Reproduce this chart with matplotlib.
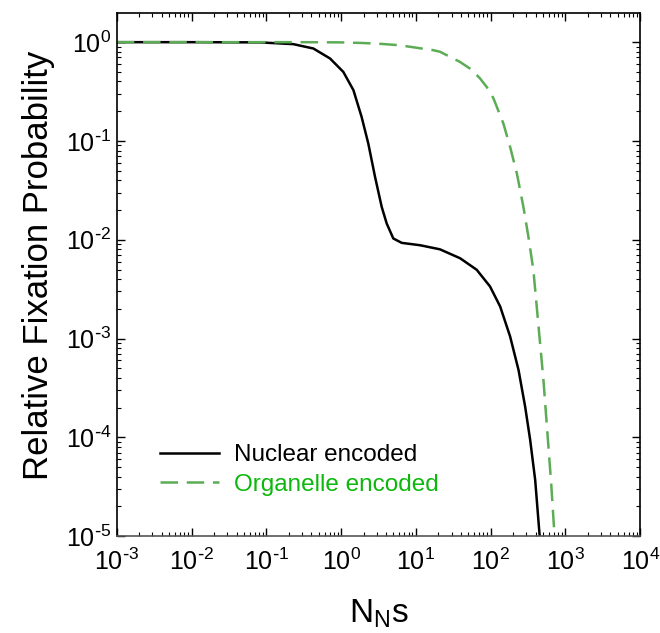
import math
import matplotlib
matplotlib.use('Agg')
import matplotlib.pyplot as plt
from matplotlib.ticker import LogLocator, FuncFormatter, NullFormatter

plt.rcParams['font.family'] = ['Liberation Sans', 'DejaVu Sans']
plt.rcParams['mathtext.default'] = 'regular'

# values
nuc_x = [1e-3, 1e-2, 0.082, 0.229, 0.425, 0.71, 1.07, 1.46, 1.88, 2.31, 2.84,
         3.49, 4.07, 4.99, 6.47, 11.4, 21, 39, 65, 98, 134, 182, 236, 289,
         337, 394, 450, 455]
nuc_y = [1.0, 1.0, 0.995, 0.955, 0.863, 0.684, 0.50, 0.327, 0.175, 0.094,
         0.0434, 0.0215, 0.0146, 0.0103, 0.0093, 0.0088, 0.0080, 0.0065,
         0.00497, 0.00337, 0.00211, 0.00105, 4.8e-4, 2.05e-4, 9.5e-5,
         3.7e-5, 1.05e-5, 1e-5]

org_x = [1e-3, 0.1, 0.3, 1, 2, 3.5, 6.1, 10, 17, 21, 39, 55, 72, 89, 109, 148,
         182, 224, 274, 320, 373, 446, 508, 575, 645, 707, 720]
org_y = [1.0, 1.0, 1.0, 0.995, 0.98, 0.96, 0.93, 0.88, 0.83, 0.80, 0.63, 0.53,
         0.43, 0.35, 0.27, 0.15, 0.087, 0.047, 0.0215, 0.0107, 0.0049,
         0.00112, 3.8e-4, 1.09e-4, 3.4e-5, 1.15e-5, 1e-5]

x_ticks = [1e-3, 1e-2, 1e-1, 1e0, 1e1, 1e2, 1e3, 1e4]
y_ticks = [1e-5, 1e-4, 1e-3, 1e-2, 1e-1, 1e0]

fig = plt.figure(figsize=(6.6, 6.33), dpi=100)
ax = fig.add_axes([0.177, 0.153, 0.793, 0.826])

ax.plot(nuc_x, nuc_y, color='black', lw=1.8, label='Nuclear encoded')
ax.plot(org_x, org_y, color='#5cac55', lw=1.8, dashes=(7, 3.5),
        label='Organelle encoded')

ax.set_xscale('log')
ax.set_yscale('log')
ax.set_xlim(1e-3, 1e4)
ax.set_ylim(1e-5, 1.96)

def pow_fmt(v, pos):
    e = round(math.log10(v))
    if e < 0:
        return '10$^{\\text{-}%d}$' % (-e)
    return '10$^{%d}$' % e

ax.set_xticks(x_ticks)
ax.set_yticks(y_ticks)
ax.xaxis.set_major_formatter(FuncFormatter(pow_fmt))
ax.yaxis.set_major_formatter(FuncFormatter(pow_fmt))
ax.xaxis.set_minor_locator(LogLocator(base=10, subs=range(2, 10), numticks=20))
ax.yaxis.set_minor_locator(LogLocator(base=10, subs=range(2, 10), numticks=20))
ax.xaxis.set_minor_formatter(NullFormatter())
ax.yaxis.set_minor_formatter(NullFormatter())
ax.tick_params(which='both', direction='in', top=True, right=True, labelsize=18)
ax.tick_params(which='major', length=6, width=1)
ax.tick_params(which='minor', length=3, width=0.8)
ax.tick_params(axis='x', pad=9)
ax.tick_params(axis='y', pad=4)
for s in ax.spines.values():
    s.set_linewidth(1.2)
ax.spines['bottom'].set_color('#555555')

ax.set_xlabel('N$_N$s', fontsize=24, labelpad=16)
ax.set_ylabel('Relative Fixation Probability', fontsize=25)
ax.yaxis.set_label_coords(-0.118, 0.518)

leg = ax.legend(loc='lower left', bbox_to_anchor=(0.04, 0.035), frameon=False,
                fontsize=17.5, handlelength=2.45, handletextpad=0.6,
                labelspacing=0.32)
leg.get_texts()[1].set_color('#0cb80c')

fig.savefig('out.png', dpi=100)
